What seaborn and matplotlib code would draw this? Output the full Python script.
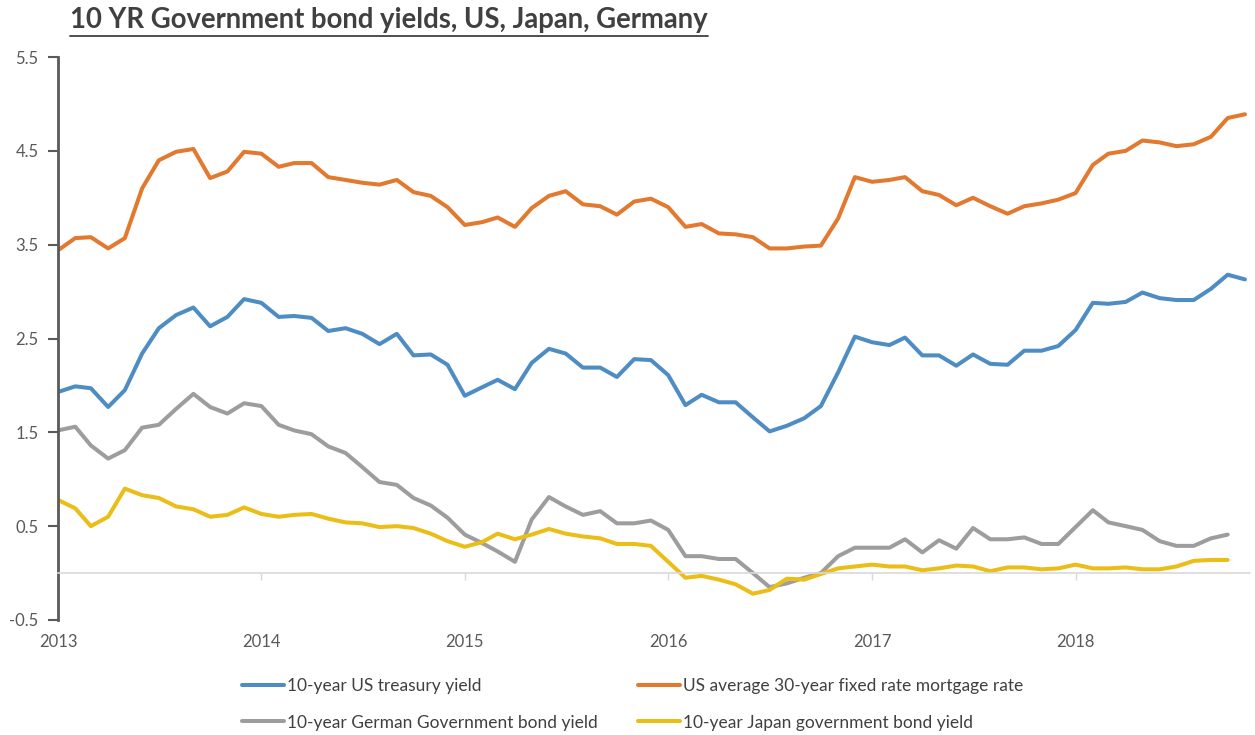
import numpy as np
import pandas as pd
import matplotlib
matplotlib.use("Agg")
import matplotlib.pyplot as plt
import matplotlib.dates as mdates
from matplotlib.lines import Line2D
import seaborn as sns

# monthly, Jan 2013 .. Nov 2018
dates = pd.date_range("2013-01-01", periods=71, freq="MS")

us_10y = [1.93, 1.99, 1.97, 1.77, 1.95, 2.34, 2.61, 2.75, 2.83, 2.63, 2.73, 2.92,
          2.88, 2.73, 2.74, 2.72, 2.58, 2.61, 2.55, 2.44, 2.55, 2.32, 2.33, 2.22,
          1.89, 1.98, 2.06, 1.96, 2.24, 2.39, 2.34, 2.19, 2.19, 2.09, 2.28, 2.27,
          2.11, 1.79, 1.90, 1.82, 1.82, 1.66, 1.51, 1.57, 1.65, 1.78, 2.14, 2.52,
          2.46, 2.43, 2.51, 2.32, 2.32, 2.21, 2.33, 2.23, 2.22, 2.37, 2.37, 2.42,
          2.59, 2.88, 2.87, 2.89, 2.99, 2.93, 2.91, 2.91, 3.03, 3.18, 3.13]

mortgage_30y = [3.44, 3.57, 3.58, 3.46, 3.57, 4.10, 4.40, 4.49, 4.52, 4.21, 4.28, 4.49,
                4.47, 4.33, 4.37, 4.37, 4.22, 4.19, 4.16, 4.14, 4.19, 4.06, 4.02, 3.90,
                3.71, 3.74, 3.79, 3.69, 3.89, 4.02, 4.07, 3.93, 3.91, 3.82, 3.96, 3.99,
                3.90, 3.69, 3.72, 3.62, 3.61, 3.58, 3.46, 3.46, 3.48, 3.49, 3.78, 4.22,
                4.17, 4.19, 4.22, 4.07, 4.03, 3.92, 4.00, 3.91, 3.83, 3.91, 3.94, 3.98,
                4.05, 4.35, 4.47, 4.50, 4.61, 4.59, 4.55, 4.57, 4.65, 4.85, 4.89]

german_10y = [1.52, 1.56, 1.36, 1.22, 1.31, 1.55, 1.58, 1.75, 1.91, 1.77, 1.70, 1.81,
              1.78, 1.58, 1.52, 1.48, 1.35, 1.28, 1.13, 0.97, 0.94, 0.80, 0.72, 0.59,
              0.41, 0.32, 0.23, 0.12, 0.57, 0.81, 0.71, 0.62, 0.66, 0.53, 0.53, 0.56,
              0.46, 0.18, 0.18, 0.15, 0.15, 0.00, -0.15, -0.11, -0.05, 0.00, 0.18, 0.27,
              0.27, 0.27, 0.36, 0.22, 0.35, 0.26, 0.48, 0.36, 0.36, 0.38, 0.31, 0.31,
              0.49, 0.67, 0.54, 0.50, 0.46, 0.34, 0.29, 0.29, 0.37, 0.41, np.nan]

japan_10y = [0.78, 0.69, 0.50, 0.60, 0.90, 0.83, 0.80, 0.71, 0.68, 0.60, 0.62, 0.70,
             0.63, 0.60, 0.62, 0.63, 0.58, 0.54, 0.53, 0.49, 0.50, 0.48, 0.42, 0.34,
             0.28, 0.33, 0.42, 0.36, 0.41, 0.47, 0.42, 0.39, 0.37, 0.31, 0.31, 0.29,
             0.12, -0.05, -0.03, -0.07, -0.12, -0.22, -0.18, -0.06, -0.07, -0.01, 0.05, 0.07,
             0.09, 0.07, 0.07, 0.03, 0.05, 0.08, 0.07, 0.02, 0.06, 0.06, 0.04, 0.05,
             0.09, 0.05, 0.05, 0.06, 0.04, 0.04, 0.07, 0.13, 0.14, 0.14, np.nan]

names = ["10-year US treasury yield",
         "US average 30-year fixed rate mortgage rate",
         "10-year German Government bond yield",
         "10-year Japan government bond yield"]
colors = ["#4E8DC3", "#E2792F", "#9D9D9D", "#EBBD17"]
year_ticks = ["2013", "2014", "2015", "2016", "2017", "2018"]

df = pd.DataFrame({"date": dates, names[0]: us_10y, names[1]: mortgage_30y,
                   names[2]: german_10y, names[3]: japan_10y})
long_df = df.melt(id_vars="date", var_name="series", value_name="yield").dropna()

sns.set_style("white")
plt.rcParams["font.family"] = ["Lato", "DejaVu Sans"]

fig = plt.figure(figsize=(12.55, 7.35), dpi=100)
ax = fig.add_axes([0.0462, 0.1565, 0.9498, 0.7659])

# legend fills column-wise, so order gives rows: blue/orange, grey/yellow
hue_order = [names[0], names[2], names[1], names[3]]
sns.lineplot(data=long_df, x="date", y="yield", hue="series", hue_order=hue_order,
             palette=dict(zip(names, colors)), linewidth=2.9, estimator=None, ax=ax)

ax.set_ylim(-0.5, 5.5)
ax.set_xlim(dates[0], pd.Timestamp("2018-11-10"))
yt = np.arange(-0.5, 5.6, 1.0)
ax.set_yticks(yt)
ax.set_yticklabels([f"{v:.1f}" for v in yt])
ax.set_xlabel("")
ax.set_ylabel("")

for s in ["top", "right"]:
    ax.spines[s].set_visible(False)
ax.spines["left"].set_color("#5a5a5a")
ax.spines["left"].set_linewidth(2.0)
ax.spines["bottom"].set_position(("data", 0))
ax.spines["bottom"].set_color("#D9D9D9")
ax.spines["bottom"].set_linewidth(1.2)

ax.tick_params(axis="y", left=True, length=7, width=1.5, color="#5a5a5a",
               labelsize=12, labelcolor="#595959", pad=7)

year_pos = [mdates.date2num(pd.Timestamp(f"{y}-01-01")) for y in year_ticks]
ax.set_xticks(year_pos)
ax.tick_params(axis="x", bottom=True, length=5, width=1, color="#D9D9D9",
               labelbottom=False)

secax = ax.secondary_xaxis(0.0)
secax.set_xticks(year_pos, labels=year_ticks)
secax.spines["bottom"].set_visible(False)
secax.tick_params(length=0, pad=10, labelsize=12, labelcolor="#595959")

sns.move_legend(ax, "upper left", bbox_to_anchor=(0.193, 0.078),
                bbox_transform=fig.transFigure, ncol=2, frameon=False, title=None,
                fontsize=12.5, handlelength=2.4, handletextpad=0.2,
                columnspacing=2.3, labelspacing=1.2, borderpad=0, borderaxespad=0)
for t in ax.get_legend().get_texts():
    t.set_color("#404040")
for h in ax.get_legend().legend_handles:
    h.set_linewidth(2.9)

# underlined title
title = fig.text(0.0558, 0.973, "10 YR Government bond yields, US, Japan, Germany",
                 fontsize=19.8, fontweight="bold", color="#404040", va="center", ha="left")
fig.canvas.draw()
bb = title.get_window_extent().transformed(fig.transFigure.inverted())
fig.add_artist(Line2D([bb.x0, bb.x1], [bb.y0 - 0.004, bb.y0 - 0.004],
                      transform=fig.transFigure, color="#404040", linewidth=1.3))

fig.savefig("out.png", dpi=100)
